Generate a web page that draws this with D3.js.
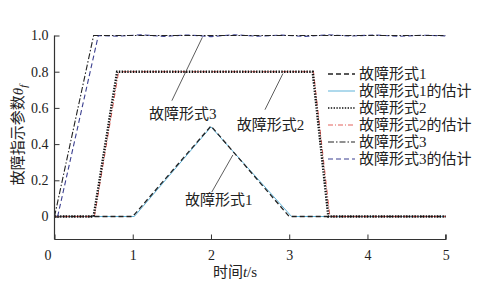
<!DOCTYPE html>
<html>
<head>
<meta charset="utf-8">
<script src="https://cdn.jsdelivr.net/npm/d3@7"></script>
<style>
  body { margin: 0; background: #fff; }
  text { font-family: "Liberation Serif", "Noto Sans CJK SC", serif; fill: #222; }
</style>
</head>
<body>
<svg id="chart" width="477" height="286"></svg>
<script>
// values
var xTicks = [0, 1, 2, 3, 4, 5]
var yTicks = [0, 0.2, 0.4, 0.6, 0.8, 1.0]

var fault1T = [0, 1, 2, 3, 5]
var fault1V = [0, 0, 0.5, 0, 0]
var est1T = [0, 1.02, 2.0, 3.03, 5]
var est1V = [0, 0, 0.495, 0, 0]

var fault2T = [0, 0.5, 0.8, 3.3, 3.5, 5]
var fault2V = [0, 0, 0.8, 0.8, 0, 0]
var est2T = [0, 0.51, 0.82, 3.31, 3.52, 5]
var est2V = [0, 0, 0.8, 0.8, 0, 0]

var fault3T = [0, 0.5, 5]
var fault3V = [0, 1, 1]
var est3T = [0.04, 0.56, 0.8, 1.1, 1.4, 1.7, 2.0, 2.3, 2.6, 2.9, 3.2, 3.5, 3.8, 4.1, 4.4, 4.7, 5]
var est3V = [0, 1, 0.996, 1.004, 0.995, 1.003, 0.994, 1.004, 0.996, 1.002, 0.995, 1.004, 0.997, 1.003, 0.995, 1.002, 0.998]

var legendNames = ["故障形式1", "故障形式1的估计", "故障形式2", "故障形式2的估计", "故障形式3", "故障形式3的估计"]

// annotations: [point t, point v, line end t, line end v, text t, text v, label]
var notes = [
  [1.89, 0.99, 1.5, 0.64, 1.64, 0.54, "故障形式3"],
  [2.92, 0.79, 2.69, 0.59, 2.76, 0.48, "故障形式2"],
  [2.28, 0.34, 2.01, 0.135, 2.1, 0.062, "故障形式1"]
]

var svg = d3.select("#chart")

var x = d3.scaleLinear().domain([0, 5]).range([54.5, 445.7])
var y = d3.scaleLinear().domain([-0.127, 1.0]).range([239.5, 35.5])

// series styles
var series = [
  { t: fault1T, v: fault1V, color: "#222", width: 1.3, dash: "5,3" },
  { t: est1T, v: est1V, color: "#5fb3d9", width: 1, dash: null },
  { t: fault2T, v: fault2V, color: "#111", width: 2.4, dash: "1.4,1.4" },
  { t: est2T, v: est2V, color: "#e0504a", width: 0.9, dash: "5,2,1,2" },
  { t: fault3T, v: fault3V, color: "#222", width: 1.1, dash: "6,2,1.5,2" },
  { t: est3T, v: est3V, color: "#3b3f8f", width: 1.1, dash: "5,3" }
]

var line = d3.line().x(d => x(d[0])).y(d => y(d[1]))

// draw in order so fault 2 sits on top of fault 1
var order = [1, 0, 3, 2, 5, 4]
order.forEach(function (i) {
  var s = series[i]
  svg.append("path")
    .datum(s.t.map((t, k) => [t, s.v[k]]))
    .attr("d", line)
    .attr("fill", "none")
    .attr("stroke", s.color)
    .attr("stroke-width", s.width)
    .attr("stroke-dasharray", s.dash)
})

// axes
var xAxis = svg.append("g")
  .attr("transform", "translate(0," + y(-0.127) + ")")
  .call(d3.axisBottom(x).tickValues(xTicks).tickSize(-5).tickPadding(11).tickFormat(d3.format("d")))
xAxis.selectAll("text").attr("font-size", 14)
xAxis.selectAll(".tick text").filter(d => d === 0).attr("dx", -7)

var yAxis = svg.append("g")
  .attr("transform", "translate(" + x(0) + ",0)")
  .call(d3.axisLeft(y).tickValues(yTicks).tickSize(-5).tickPadding(6)
    .tickFormat(d => d === 0 ? "0" : d3.format(".1f")(d)))
yAxis.selectAll("text").attr("font-size", 14)

svg.selectAll(".domain").attr("stroke", "#333").attr("stroke-width", 1.2)
svg.selectAll(".tick line").attr("stroke", "#333")
// keep only the left / bottom spines, no end caps
yAxis.select(".domain").attr("d", "M0," + y(1.0) + "V" + y(-0.127))
xAxis.select(".domain").attr("d", "M" + x(0) + ",0H" + x(5) + "V-5")

// annotations
notes.forEach(function (n) {
  svg.append("line")
    .attr("x1", x(n[0])).attr("y1", y(n[1]))
    .attr("x2", x(n[2])).attr("y2", y(n[3]))
    .attr("stroke", "#333").attr("stroke-width", 0.8)
  svg.append("text")
    .attr("x", x(n[4])).attr("y", y(n[5]))
    .attr("text-anchor", "middle")
    .attr("font-size", 15)
    .text(n[6])
})

// legend
var legend = svg.append("g").attr("transform", "translate(328,74)")
legendNames.forEach(function (name, i) {
  var s = series[i]
  var row = legend.append("g").attr("transform", "translate(0," + i * 17 + ")")
  row.append("line")
    .attr("x1", 0).attr("x2", 27)
    .attr("stroke", s.color)
    .attr("stroke-width", Math.min(s.width, 1.6))
    .attr("stroke-dasharray", s.dash)
  row.append("text")
    .attr("x", 31).attr("y", 5)
    .attr("font-size", 15)
    .text(name)
})

// axis titles
var xt = svg.append("text")
  .attr("x", 235).attr("y", 277)
  .attr("text-anchor", "middle")
  .attr("font-size", 15)
xt.append("tspan").text("时间")
xt.append("tspan").attr("font-style", "italic").text("t")
xt.append("tspan").text("/s")

var yt = svg.append("text")
  .attr("transform", "translate(23,135) rotate(-90)")
  .attr("text-anchor", "middle")
  .attr("font-size", 15)
yt.append("tspan").text("故障指示参数")
yt.append("tspan").attr("font-style", "italic").text("θ")
yt.append("tspan").attr("font-style", "italic").attr("font-size", 11).attr("dy", 4).text("f")
</script>
</body>
</html>
